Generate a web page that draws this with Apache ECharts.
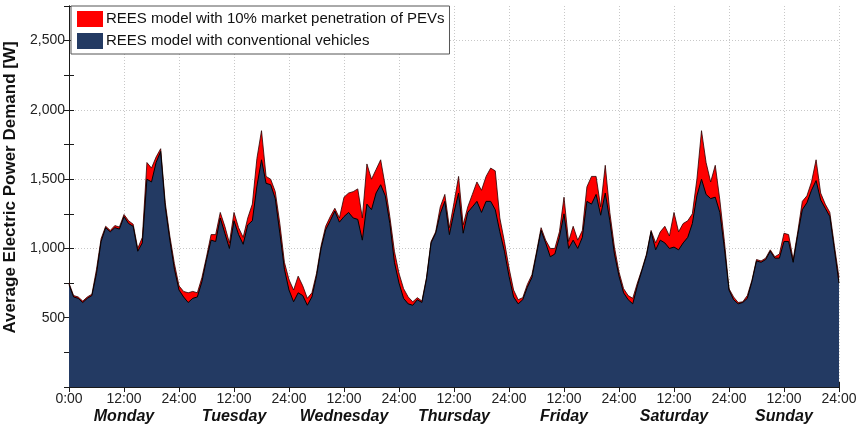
<!DOCTYPE html>
<html>
<head>
<meta charset="utf-8">
<script src="https://cdn.jsdelivr.net/npm/echarts@6/dist/echarts.min.js"></script>
<style>
  html, body { margin: 0; padding: 0; background: #fff; }
  #chart { width: 859px; height: 428px; }
</style>
</head>
<body>
<div id="chart"></div>
<script>
// Weekly profile of average electric power demand, hourly values (W), hours 0..23 of each day
const days = ['Monday', 'Tuesday', 'Wednesday', 'Thursday', 'Friday', 'Saturday', 'Sunday'];
const xTickLabels = ['0:00', '12:00', '24:00'];

// REES model with conventional vehicles
const convMon = [740,650,640,610,640,660,820,1050,1150,1120,1150,1140,1230,1180,1160,980,1040,1500,1480,1620,1700,1300,1060,850];
const convTue = [700,650,610,640,650,760,920,1060,1050,1220,1110,1000,1200,1100,1030,1170,1200,1450,1640,1470,1460,1360,1110,850];
const convWed = [700,615,680,660,590,650,800,1000,1135,1200,1270,1190,1230,1260,1220,1210,1060,1320,1280,1400,1460,1380,1180,900];
const convThu = [750,640,600,590,630,610,780,1040,1110,1250,1340,1100,1260,1400,1110,1260,1300,1340,1260,1340,1340,1280,1120,980];
const convFri = [800,650,600,630,720,790,960,1130,1040,940,960,1080,1250,1000,1060,1000,1080,1340,1320,1390,1240,1400,1200,960];
const convSat = [800,680,630,600,730,840,950,1120,990,1060,1040,1000,1010,990,1040,1080,1180,1380,1500,1390,1360,1370,1260,1000];
const convSun = [700,630,600,610,640,760,910,900,920,980,930,930,1050,1050,900,1100,1280,1330,1420,1490,1350,1290,1230,990];
const convEnd = 750; // Sunday 24:00

// REES model with 10% market penetration of PEVs
const pevMon = [750,660,650,620,650,670,850,1070,1160,1130,1165,1155,1245,1200,1175,1000,1080,1620,1580,1660,1720,1330,1090,890];
const pevTue = [730,690,680,690,680,790,940,1100,1100,1260,1160,1040,1260,1150,1080,1220,1320,1650,1850,1520,1500,1410,1180,900];
const pevWed = [775,700,800,730,640,680,820,1020,1160,1230,1290,1220,1370,1400,1410,1430,1220,1610,1500,1570,1640,1450,1230,980];
const pevThu = [820,710,650,615,645,620,790,1050,1120,1300,1390,1150,1330,1520,1170,1300,1390,1480,1420,1520,1580,1560,1220,1050];
const pevFri = [860,700,630,645,740,810,975,1150,1060,1000,1000,1120,1370,1050,1160,1060,1130,1445,1520,1520,1300,1600,1260,1010];
const pevSat = [830,710,660,640,750,850,960,1130,1040,1120,1160,1090,1260,1120,1180,1200,1250,1500,1850,1620,1480,1600,1350,1050];
const pevSun = [710,650,610,615,660,770,920,910,930,990,940,960,1110,1100,920,1120,1340,1380,1480,1640,1400,1320,1260,1020];
const pevEnd = 790;

const pevName = 'REES model with 10% market penetration of PEVs';
const convName = 'REES model with conventional vehicles';

function toPoints(dayArrays, last) {
  const pts = [];
  dayArrays.forEach((arr, d) => arr.forEach((v, h) => pts.push([d * 24 + h, v])));
  pts.push([168, last]);
  return pts;
}

const convData = toPoints([convMon, convTue, convWed, convThu, convFri, convSat, convSun], convEnd);
const pevData = toPoints([pevMon, pevTue, pevWed, pevThu, pevFri, pevSat, pevSun], pevEnd);

const font = 'Liberation Sans, Arial, sans-serif';
const axisColor = '#1a1a1a';
const gridColor = '#c8c8c8';

const chart = echarts.init(document.getElementById('chart'), null, { renderer: 'canvas' });
chart.setOption({
  animation: false,
  backgroundColor: '#fff',
  grid: { left: 69, right: 20, top: 6, bottom: 41, containLabel: false, outerBoundsMode: 'none' },
  legend: {
    orient: 'vertical',
    left: 71,
    top: 6,
    itemWidth: 26,
    itemHeight: 16,
    itemGap: 6,
    padding: [5, 5, 5, 6],
    backgroundColor: '#fff',
    borderColor: '#555',
    borderWidth: 1,
    borderRadius: 0,
    itemStyle: { borderWidth: 0 },
    textStyle: { fontFamily: font, fontSize: 15, color: '#111', padding: [0, 0, 0, -2] },
    data: [{ name: pevName, icon: 'rect' }, { name: convName, icon: 'rect' }]
  },
  xAxis: [
    {
      type: 'value', min: 0, max: 168, interval: 12, position: 'bottom',
      axisLine: { show: true, lineStyle: { color: axisColor, width: 1 } },
      axisTick: { show: true, inside: true, length: 5, lineStyle: { color: axisColor } },
      axisLabel: {
        margin: 5, fontFamily: font, fontSize: 14, color: '#222',
        showMinLabel: true, showMaxLabel: true,
        formatter: v => v === 0 ? xTickLabels[0] : (v % 24 === 0 ? xTickLabels[2] : xTickLabels[1])
      },
      splitLine: { show: true, lineStyle: { color: gridColor, type: [1, 2], width: 1 } }
    },
    {
      type: 'value', min: 0, max: 168, interval: 12, position: 'top',
      axisLine: { show: true, lineStyle: { color: axisColor, width: 1 } },
      axisTick: { show: true, inside: true, length: 5, lineStyle: { color: axisColor } },
      axisLabel: { show: false },
      splitLine: { show: false }
    },
    {
      type: 'category', data: days, position: 'bottom', offset: 16,
      boundaryGap: true,
      axisLine: { show: false }, axisTick: { show: false },
      axisLabel: { margin: 6, fontFamily: font, fontSize: 16, fontWeight: 'bold', fontStyle: 'italic', color: '#111', interval: 0 },
      splitLine: { show: false }
    }
  ],
  yAxis: [
    {
      type: 'value', min: 0, max: 2750, interval: 250, position: 'left',
      name: 'Average Electric Power Demand [W]',
      nameLocation: 'middle', nameGap: 40,
      nameTextStyle: { fontFamily: font, fontSize: 17, fontWeight: 'bold', color: '#111', padding: [0, 0, 0, 18] },
      axisLine: { show: true, lineStyle: { color: axisColor, width: 1 } },
      axisTick: { show: true, inside: true, length: 5, lineStyle: { color: axisColor } },
      axisLabel: {
        margin: 4, fontFamily: font, fontSize: 14, color: '#222',
        formatter: v => (v > 0 && v < 2750 && v % 500 === 0) ? v.toLocaleString('en-US') : ''
      },
      splitLine: {
        show: true, showMinLine: true, showMaxLine: true,
        lineStyle: { color: [gridColor, 'rgba(0,0,0,0)'], type: [1, 2], width: 1 }
      }
    },
    {
      type: 'value', min: 0, max: 2750, interval: 250, position: 'right',
      axisLine: { show: true, lineStyle: { color: axisColor, width: 1 } },
      axisTick: { show: true, inside: true, length: 5, lineStyle: { color: axisColor } },
      axisLabel: { show: false },
      splitLine: { show: false }
    }
  ],
  series: [
    {
      name: pevName, type: 'line', xAxisIndex: 0, yAxisIndex: 0,
      data: pevData, showSymbol: false, symbol: 'none',
      itemStyle: { color: '#ff0000' },
      lineStyle: { color: '#2a0000', width: 0.8 },
      areaStyle: { color: '#ff0000', opacity: 1, origin: 'start' }
    },
    {
      name: convName, type: 'line', xAxisIndex: 0, yAxisIndex: 0,
      data: convData, showSymbol: false, symbol: 'none',
      itemStyle: { color: '#233a63' },
      lineStyle: { color: '#000000', width: 1 },
      areaStyle: { color: '#233a63', opacity: 1, origin: 'start' }
    }
  ]
});
</script>
</body>
</html>
